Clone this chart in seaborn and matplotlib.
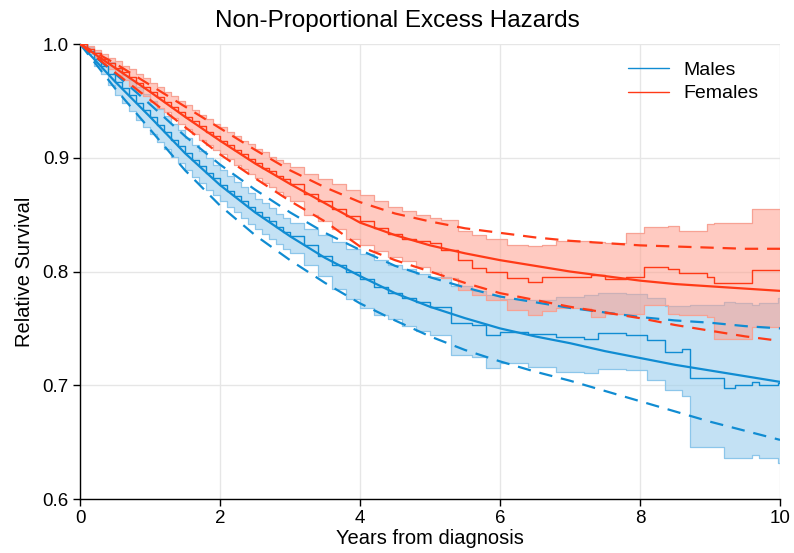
import numpy as np
import pandas as pd
import matplotlib
matplotlib.use("Agg")
import matplotlib.pyplot as plt
from matplotlib.lines import Line2D
import seaborn as sns

# ---- Life-table (step) relative survival with 95% limits ----
male_time = [0.0, 0.1, 0.2, 0.3, 0.4, 0.5, 0.6, 0.7, 0.8, 0.9, 1.0, 1.1, 1.2, 1.3,
             1.4, 1.5, 1.6, 1.7, 1.8, 1.9, 2.0, 2.1, 2.2, 2.3, 2.4, 2.5, 2.6, 2.7,
             2.8, 2.9, 3.0, 3.2, 3.4, 3.6, 3.8, 4.0, 4.2, 4.4, 4.6, 4.8, 5.0, 5.3,
             5.6, 5.8, 6.0, 6.4, 6.8, 7.2, 7.4, 7.8, 8.1, 8.35, 8.6, 8.72, 9.2,
             9.35, 9.6, 9.7, 9.97]
male_est = [1.000, 0.994, 0.987, 0.981, 0.974, 0.967, 0.961, 0.955, 0.948, 0.942,
            0.936, 0.929, 0.923, 0.916, 0.910, 0.904, 0.898, 0.893, 0.887, 0.882,
            0.876, 0.871, 0.866, 0.862, 0.857, 0.852, 0.848, 0.844, 0.839, 0.835,
            0.831, 0.823, 0.814, 0.806, 0.800, 0.793, 0.786, 0.781, 0.777, 0.773,
            0.769, 0.755, 0.753, 0.744, 0.747, 0.745, 0.742, 0.741, 0.746, 0.744,
            0.740, 0.729, 0.732, 0.706, 0.698, 0.700, 0.703, 0.700, 0.702]
male_hi = [1.000, 0.997, 0.993, 0.988, 0.984, 0.978, 0.973, 0.968, 0.962, 0.956,
           0.950, 0.943, 0.937, 0.930, 0.924, 0.917, 0.911, 0.906, 0.900, 0.894,
           0.889, 0.884, 0.879, 0.874, 0.869, 0.864, 0.860, 0.856, 0.851, 0.847,
           0.843, 0.837, 0.832, 0.826, 0.820, 0.815, 0.810, 0.806, 0.802, 0.798,
           0.795, 0.787, 0.783, 0.779, 0.776, 0.775, 0.778, 0.779, 0.781, 0.780,
           0.777, 0.770, 0.770, 0.771, 0.773, 0.772, 0.771, 0.772, 0.777]
male_lo = [1.000, 0.991, 0.981, 0.974, 0.964, 0.955, 0.948, 0.941, 0.933, 0.927,
           0.921, 0.914, 0.908, 0.901, 0.895, 0.889, 0.883, 0.878, 0.872, 0.867,
           0.862, 0.857, 0.852, 0.847, 0.842, 0.837, 0.833, 0.829, 0.824, 0.820,
           0.816, 0.806, 0.796, 0.785, 0.776, 0.768, 0.762, 0.758, 0.752, 0.748,
           0.744, 0.727, 0.725, 0.715, 0.720, 0.716, 0.712, 0.711, 0.714, 0.713,
           0.705, 0.696, 0.691, 0.646, 0.636, 0.636, 0.639, 0.636, 0.632]

female_time = [0.0, 0.1, 0.2, 0.3, 0.4, 0.5, 0.6, 0.7, 0.8, 0.9, 1.0, 1.1, 1.2, 1.3,
               1.4, 1.5, 1.6, 1.7, 1.8, 1.9, 2.0, 2.1, 2.2, 2.3, 2.4, 2.5, 2.6, 2.7,
               2.8, 2.9, 3.0, 3.2, 3.4, 3.6, 3.8, 4.0, 4.2, 4.4, 4.6, 4.8, 5.0, 5.15,
               5.4, 5.6, 5.8, 6.1, 6.4, 6.6, 6.8, 7.3, 7.5, 7.8, 8.05, 8.4, 8.55,
               8.95, 9.05, 9.6]
female_est = [1.000, 0.996, 0.992, 0.987, 0.983, 0.979, 0.975, 0.971, 0.966, 0.962,
              0.958, 0.953, 0.949, 0.945, 0.940, 0.936, 0.932, 0.928, 0.923, 0.919,
              0.915, 0.911, 0.907, 0.903, 0.899, 0.895, 0.891, 0.888, 0.884, 0.881,
              0.877, 0.868, 0.862, 0.855, 0.849, 0.844, 0.838, 0.833, 0.829, 0.827,
              0.825, 0.819, 0.810, 0.803, 0.800, 0.794, 0.791, 0.795, 0.795, 0.797,
              0.793, 0.795, 0.804, 0.802, 0.799, 0.795, 0.790, 0.801]
female_hi = [1.000, 0.998, 0.995, 0.991, 0.988, 0.985, 0.981, 0.978, 0.974, 0.970,
             0.966, 0.962, 0.958, 0.954, 0.950, 0.946, 0.942, 0.938, 0.934, 0.930,
             0.927, 0.923, 0.919, 0.915, 0.912, 0.908, 0.905, 0.901, 0.898, 0.895,
             0.892, 0.886, 0.881, 0.877, 0.872, 0.867, 0.862, 0.857, 0.853, 0.850,
             0.847, 0.845, 0.836, 0.832, 0.829, 0.823, 0.822, 0.823, 0.827, 0.826,
             0.825, 0.834, 0.839, 0.840, 0.836, 0.842, 0.843, 0.855]
female_lo = [1.000, 0.994, 0.989, 0.983, 0.978, 0.973, 0.968, 0.963, 0.958, 0.954,
             0.949, 0.944, 0.940, 0.935, 0.930, 0.925, 0.921, 0.916, 0.911, 0.907,
             0.903, 0.899, 0.894, 0.890, 0.886, 0.882, 0.878, 0.874, 0.870, 0.866,
             0.862, 0.850, 0.844, 0.837, 0.829, 0.823, 0.818, 0.813, 0.809, 0.804,
             0.800, 0.794, 0.784, 0.779, 0.775, 0.766, 0.762, 0.765, 0.768, 0.760,
             0.763, 0.763, 0.771, 0.763, 0.762, 0.760, 0.741, 0.751]

# ---- Fitted non-proportional excess hazard model ----
model_time = [0.0, 0.5, 1.0, 1.5, 2.0, 2.5, 3.0, 3.5, 4.0, 4.5, 5.0,
              5.5, 6.0, 6.5, 7.0, 7.5, 8.0, 8.5, 9.0, 9.5, 10.0]
male_fit = [1.000, 0.967, 0.936, 0.904, 0.876, 0.852, 0.831, 0.812, 0.796, 0.781,
            0.769, 0.759, 0.750, 0.743, 0.737, 0.730, 0.724, 0.718, 0.713, 0.708, 0.703]
male_fit_hi = [1.000, 0.974, 0.947, 0.919, 0.894, 0.872, 0.852, 0.834, 0.819, 0.805,
               0.795, 0.786, 0.778, 0.773, 0.768, 0.764, 0.760, 0.757, 0.755, 0.752, 0.750]
male_fit_lo = [1.000, 0.961, 0.925, 0.889, 0.858, 0.832, 0.810, 0.790, 0.772, 0.757,
               0.743, 0.731, 0.721, 0.712, 0.704, 0.695, 0.686, 0.677, 0.668, 0.660, 0.652]
female_fit = [1.000, 0.979, 0.958, 0.936, 0.915, 0.895, 0.877, 0.860, 0.843, 0.832,
              0.823, 0.816, 0.810, 0.805, 0.800, 0.796, 0.792, 0.789, 0.787, 0.785, 0.783]
female_fit_hi = [1.000, 0.983, 0.964, 0.945, 0.926, 0.907, 0.889, 0.874, 0.861, 0.851,
                 0.844, 0.838, 0.834, 0.830, 0.827, 0.825, 0.823, 0.822, 0.821, 0.820, 0.820]
female_fit_lo = [1.000, 0.975, 0.951, 0.927, 0.903, 0.882, 0.862, 0.844, 0.822, 0.810,
                 0.800, 0.790, 0.781, 0.775, 0.769, 0.764, 0.759, 0.753, 0.748, 0.743, 0.739]

x_ticks = [0, 2, 4, 6, 8, 10]
y_ticks = [0.6, 0.7, 0.8, 0.9, 1.0]
y_tick_labels = ["0.6", "0.7", "0.8", "0.9", "1.0"]

BLUE = "#108cd2"
RED = "#ff3a17"
BLUE_EDGE = "#8cc6ea"
RED_EDGE = "#f7a294"

sns.set_theme(style="white")
plt.rcParams["font.family"] = ["Liberation Sans", "DejaVu Sans"]
plt.rcParams["text.color"] = "black"
plt.rcParams["axes.labelcolor"] = "black"

fig = plt.figure(figsize=(7.94, 5.53), dpi=100)
ax = fig.add_axes([0.1008, 0.0976, 0.8816, 0.8228])

def extend(t, v, end=10.0):
    return np.append(np.asarray(t, float), end), np.append(np.asarray(v, float), v[-1])

def band(t, lo, hi, fill, edge, alpha, z):
    tt, ll = extend(t, lo)
    _, hh = extend(t, hi)
    ax.fill_between(tt, ll, hh, step="post", color=fill, alpha=alpha, lw=0, zorder=z)
    ax.step(tt, ll, where="post", color=edge, lw=0.9, zorder=z + 0.1)
    ax.step(tt, hh, where="post", color=edge, lw=0.9, zorder=z + 0.1)

# confidence bands of the life-table estimates (males first, females over them)
band(male_time, male_lo, male_hi, "#9fd0ee", BLUE_EDGE, 0.62, 1)
band(female_time, female_lo, female_hi, "#ff9f8e", RED_EDGE, 0.55, 2)

# life-table step estimates
for t, v, c in [(male_time, male_est, BLUE), (female_time, female_est, RED)]:
    tt, vv = extend(t, v)
    df = pd.DataFrame({"t": tt, "v": vv})
    sns.lineplot(data=df, x="t", y="v", color=c, lw=1.0, drawstyle="steps-post",
                 estimator=None, sort=False, ax=ax, zorder=4)

# model fit with dashed confidence limits
for fit, lo, hi, c in [(male_fit, male_fit_lo, male_fit_hi, BLUE),
                       (female_fit, female_fit_lo, female_fit_hi, RED)]:
    df = pd.DataFrame({"t": model_time, "fit": fit, "lo": lo, "hi": hi})
    sns.lineplot(data=df, x="t", y="fit", color=c, lw=1.6, estimator=None, ax=ax, zorder=5)
    for col in ["lo", "hi"]:
        sns.lineplot(data=df, x="t", y=col, color=c, lw=1.6, estimator=None, ax=ax,
                     zorder=5, dashes=False, linestyle=(0, (6, 4)))

ax.set_xlim(0, 10)
ax.set_ylim(0.6, 1.0)
ax.set_xticks(x_ticks)
ax.set_yticks(y_ticks)
ax.set_yticklabels(y_tick_labels)
ax.tick_params(axis="both", labelsize=13.5, length=5, width=1, colors="black",
               labelcolor="black", direction="out", bottom=True, left=True, pad=3)
ax.grid(True, color="#e6e6e6", lw=1.0, zorder=0)
ax.set_axisbelow(True)
for side in ["top", "right"]:
    ax.spines[side].set_visible(False)
for side in ["left", "bottom"]:
    ax.spines[side].set_color("black")
    ax.spines[side].set_linewidth(1.0)

ax.set_xlabel("Years from diagnosis", fontsize=14.5, labelpad=1, color="black")
ax.set_ylabel("Relative Survival", fontsize=14.5, labelpad=6, color="black")
fig.suptitle("Non-Proportional Excess Hazards", fontsize=17.5, x=0.5, y=0.982,
             va="top", color="black")

handles = [Line2D([], [], color=BLUE, lw=1.0), Line2D([], [], color=RED, lw=1.0)]
leg = ax.legend(handles, ["Males", "Females"], loc="upper left", frameon=False,
                fontsize=14, handlelength=2.1, handletextpad=0.75, labelspacing=0.3,
                borderpad=0, borderaxespad=0, bbox_to_anchor=(0.783, 0.962))
for txt in leg.get_texts():
    txt.set_color("black")

fig.savefig("out.png", dpi=100)
